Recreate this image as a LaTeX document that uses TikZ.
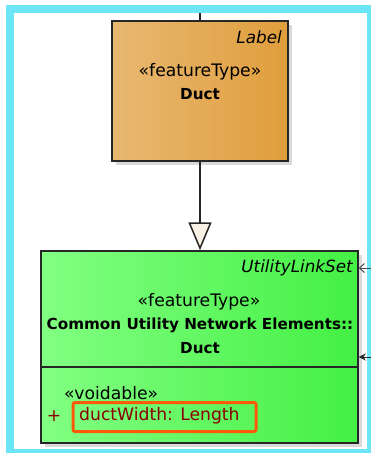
\documentclass[tikz,border=0pt]{standalone}
\usepackage{fontspec}
\setmainfont{DejaVu Sans}
\usetikzlibrary{arrows.meta,shadows}

\definecolor{frameCyan}{HTML}{6CE6F6}
\definecolor{orangeL}{HTML}{E8B872}
\definecolor{orangeR}{HTML}{E09E3C}
\definecolor{greenL}{HTML}{82FF82}
\definecolor{greenR}{HTML}{44F044}
\definecolor{attrRed}{HTML}{8A0000}
\definecolor{hiliteRed}{HTML}{FF5A0A}
\definecolor{genFill}{HTML}{FBF0E4}

\tikzset{
  classbox/.style={draw=black!85, line width=1.5pt, inner sep=0pt,
    drop shadow={shadow xshift=4pt, shadow yshift=-4pt, fill=black!15, opacity=1}},
  txt/.style={inner sep=0pt, font=\fontsize{17.2}{20}\selectfont},
  txtb/.style={inner sep=0pt, font=\fontsize{15.2}{18}\selectfont\bfseries},
  txti/.style={inner sep=0pt, font=\fontsize{16.8}{20}\selectfont\itshape, anchor=east},
  conn/.style={draw=black!85, line width=1.5pt},
}

\begin{document}
\begin{tikzpicture}[x=1pt, y=-1pt]
    \useasboundingbox (0,0) rectangle (370,453);
    % frame
    \fill[frameCyan] (6,5) rectangle (372,456);
    \fill[white] (14,13) rectangle (367,449);

    % the two classes
    \node[classbox, left color=orangeL, right color=orangeR,
          minimum width=176pt, minimum height=140pt] (ductOrange) at (200,91) {};
    \node[classbox, left color=greenL, right color=greenR,
          minimum width=317pt, minimum height=192pt] (ductGreen) at (199.5,347) {};

    % texts of Duct (Label)
    \node[txti] (lblOrange) at (282,37) {Label};
    \node[txt] (stereoOrange) at (200,72) {«featureType»};
    \node[txtb] (nameOrange) at (200,94) {Duct};

    % texts of Duct (Common Utility Network Elements)
    \node[txti] (lblGreen) at (353,268) {UtilityLinkSet};
    \node[txt] (stereoGreen) at (199,302) {«featureType»};
    \node[txtb] (nameGreen) at (200,325) {Common Utility Network Elements::};
    \node[txtb] (nameGreen2) at (200,348) {Duct};

    % attribute compartment
    \coordinate (divider) at (0,367);
    \draw[conn] (ductGreen.west |- divider) -- (ductGreen.east |- divider);
    \node[txt, anchor=west] (voidable) at (64,393) {«voidable»};
    \node[draw=hiliteRed, line width=3pt, rounded corners=2pt,
          minimum width=183pt, minimum height=29pt] (hilite) at (164.5,417) {};
    \node[txt, text=attrRed] (plus) at (54,416) {+};
    \node[txt, text=attrRed, anchor=west] (attr) at (79,416) {ductWidth: Length};

    % connectors
    \coordinate (topEnd) at (200,13);
    \draw[conn] (topEnd) -- (ductOrange.north);
    \draw[conn, -{Triangle[open, length=28pt, width=23pt, fill=genFill, line width=1.5pt]}]
        (ductOrange.south) -- (ductOrange.south |- ductGreen.north);

    \coordinate (inA) at (375,268);
    \coordinate (inB) at (375,357);
    \draw[draw=black!70, line width=1pt, -{Straight Barb[length=5pt, width=9pt]}]
        (inA) -- (ductGreen.east |- inA);
    \draw[draw=black!85, line width=1pt, -{Stealth[length=7pt, width=7pt]}]
        (inB) -- (ductGreen.east |- inB);
\end{tikzpicture}
\end{document}
